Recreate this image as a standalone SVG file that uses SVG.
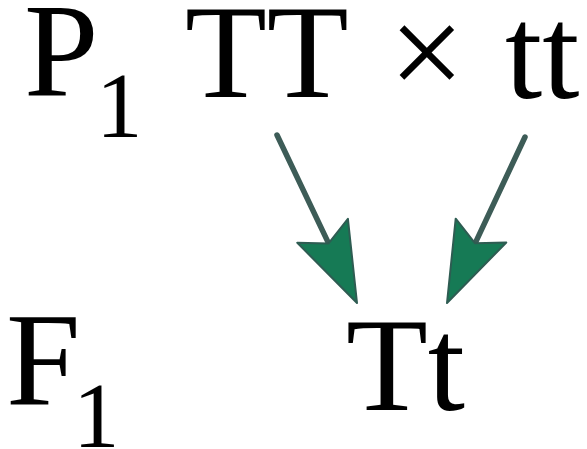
<svg xmlns="http://www.w3.org/2000/svg" width="587" height="449" viewBox="0 0 587 449">
<style>
.t{font-family:"Liberation Serif","Times New Roman",serif;fill:#000}
.big{font-size:134px}
.sub{font-size:93px}
.line{stroke:#3d5c57;stroke-width:5.5;stroke-linecap:round;fill:none}
.head{fill:#167a55;stroke:#2e5c52;stroke-width:2;stroke-linejoin:round}
</style>
<rect width="587" height="449" fill="#fff"/>
<g id="P1">
<text class="t big" x="24" y="95">P</text>
<text class="t sub" x="96" y="137">1</text>
</g>
<g id="TT">
<text class="t big" x="185" y="97">TT</text>
</g>
<g id="cross">
<text class="t big" x="389" y="97">×</text>
</g>
<g id="tt">
<text class="t big" x="505" y="98">tt</text>
</g>
<g id="F1">
<text class="t big" x="6" y="405">F</text>
<text class="t sub" x="73" y="447">1</text>
</g>
<g id="Tt">
<text class="t big" x="346" y="410">Tt</text>
</g>
<g id="connectors">
<line class="line" x1="277" y1="135" x2="328.6" y2="243.4"/>
<polygon class="head" points="357,303 297.3,242.8 328.6,243.4 347.9,218.8"/>
<line class="line" x1="525" y1="137" x2="475.1" y2="243.3"/>
<polygon class="head" points="447,303 455.7,218.7 475.1,243.3 506.3,242.5"/>
</g>
</svg>
